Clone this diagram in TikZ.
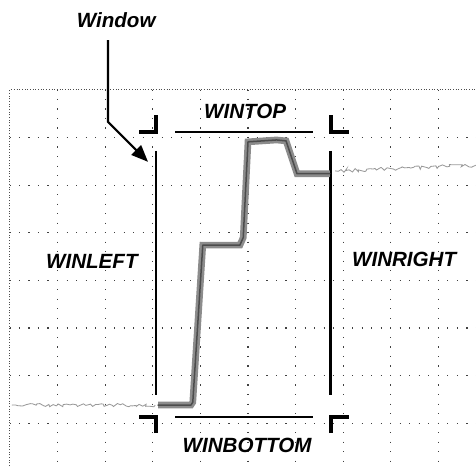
\documentclass[tikz,border=0pt]{standalone}
\usepackage{fontspec}
\setmainfont{Liberation Sans}
\usetikzlibrary{arrows.meta, positioning, decorations.pathmorphing}
\colorlet{tracegray}{black!45}
\colorlet{noisegray}{black!40}

\begin{document}
\begin{tikzpicture}[
    lbl/.style={font=\fontsize{12.3}{14}\selectfont\bfseries\itshape, inner sep=1pt},
    gridline/.style={black!75, line width=0.7pt, dash pattern=on 0.7pt off 4.99pt, dash phase=0.35pt},
    winline/.style={line width=1.6pt},
    wincorner/.style={line width=2.4pt},
    noise/.style={noisegray, line width=0.5pt, decorate, decoration={random steps, segment length=1.5pt, amplitude=1.1pt}},
    pointer/.style={line width=1.3pt, -{Triangle[length=10pt, width=8pt]}}
  ]
  \pgfmathsetseed{11}
  \useasboundingbox (-0.21,-7.90) rectangle (9.79,1.89);
  % screen border and grid
  \draw[black!70, line width=0.6pt, densely dotted] (0,-7.9) -- (0,0) -- (9.79,0);
  \foreach \x in {1,...,9}
    \draw[gridline] (\x,0) -- (\x,-7.9);
  \foreach \y in {1,...,7}
    \draw[gridline] (0,-\y) -- (9.79,-\y);
  % window corners
  \coordinate (wtl) at (3.07,-0.88);
  \coordinate (wtr) at (6.74,-0.88);
  \coordinate (wbl) at (3.07,-6.87);
  \coordinate (wbr) at (6.74,-6.87);
  \draw[wincorner] (wtl) ++(0,0.35) -- (wtl) -- ++(-0.36,0);
  \draw[wincorner] (wtr) ++(0,0.35) -- (wtr) -- ++(0.38,0);
  \draw[wincorner] (wbl) ++(0,-0.34) -- (wbl) -- ++(-0.36,0);
  \draw[wincorner] (wbr) ++(0,-0.34) -- (wbr) -- ++(0.38,0);
  % window edges
  \draw[winline] (wtl) ++(0.40,0) -- ++(2.90,0);
  \draw[winline] (wbl) ++(0.40,0) -- ++(2.90,0);
  \draw[winline] (wtl) ++(0,-0.40) -- ++(0,-5.13);
  \draw[winline] (wtr) ++(0,-0.40) -- ++(0,-5.13);
  % signal
  \draw[noise] (0.04,-6.62) -- (3.05,-6.62);
  \draw[noise] (6.83,-1.70) -- (9.79,-1.58);
  \draw[black!70, line width=0.9pt, line join=round, line cap=round,
        preaction={draw, tracegray, line width=4pt}]
    (3.11,-6.62) -- (3.80,-6.62) -- (3.84,-6.56) -- (4.05,-3.26) -- (4.83,-3.26)
    -- (4.90,-3.10) -- (5.00,-1.09) -- (5.60,-1.05) -- (5.80,-1.07)
    -- (6.03,-1.76) -- (6.72,-1.76);
  % labels
  \node[lbl] (lblwin) at (2.23,1.47) {Window};
  \node[lbl] (lbltop) at (4.94,-0.46) {WINTOP};
  \node[lbl] (lblleft) at (1.72,-3.61) {WINLEFT};
  \node[lbl] (lblright) at (8.28,-3.55) {WINRIGHT};
  \node[lbl] (lblbottom) at (4.98,-7.46) {WINBOTTOM};
  % pointer
  \coordinate (bend) at (2.06,-0.67);
  \coordinate (tip) at (2.90,-1.51);
  \draw[pointer] (lblwin.south -| bend) ++(0,-0.22) -- (bend) -- (tip);
\end{tikzpicture}
\end{document}
